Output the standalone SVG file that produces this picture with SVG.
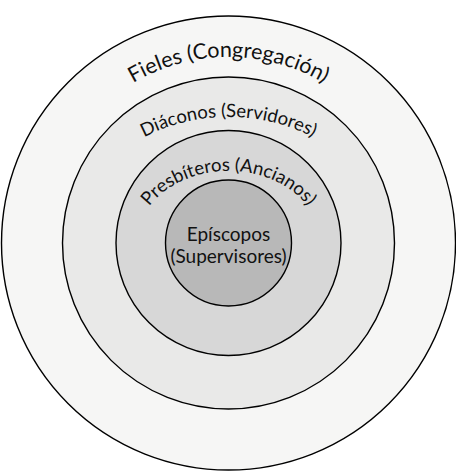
<svg xmlns="http://www.w3.org/2000/svg" xmlns:xlink="http://www.w3.org/1999/xlink" width="456" height="472" viewBox="0 0 456 472">
<style>
.ring{stroke:#000;stroke-width:1.4}
.lbl{font-family:Lato,"Open Sans","Noto Sans",sans-serif;fill:#111}
</style>
<defs>
<path id="arcFieles" d="M 41.5,243 A 187 186 0 0 1 415.5,243"/>
<path id="arcDiaconos" d="M 73.5,243 A 155 126 0 0 1 383.5,243"/>
<path id="arcPresbiteros" d="M 136.5,243 A 92 72 0 0 1 320.5,243"/>
</defs>
<rect width="456" height="472" fill="#fff"/>
<g id="fieles">
<circle class="ring" cx="228.5" cy="243" r="227" fill="#f6f6f5"/>
<text class="lbl" font-size="21.5" text-anchor="middle"><textPath xlink:href="#arcFieles" href="#arcFieles" startOffset="50%">Fieles (Congregación)</textPath></text>
</g>
<g id="diaconos">
<circle class="ring" cx="228.5" cy="243" r="166" fill="#e9e9e8"/>
<text class="lbl" font-size="18.5" text-anchor="middle"><textPath xlink:href="#arcDiaconos" href="#arcDiaconos" startOffset="50%">Diáconos (Servidores)</textPath></text>
</g>
<g id="presbiteros">
<circle class="ring" cx="228.5" cy="243" r="112.5" fill="#d7d7d7"/>
<text class="lbl" font-size="18.5" text-anchor="middle"><textPath xlink:href="#arcPresbiteros" href="#arcPresbiteros" startOffset="50%">Presbíteros (Ancianos)</textPath></text>
</g>
<g id="episcopos">
<circle class="ring" cx="228.5" cy="243" r="63" fill="#b8b8b8"/>
<text class="lbl" font-size="19" text-anchor="middle" x="228.5" y="240.5">Epíscopos</text>
<text class="lbl" font-size="19" text-anchor="middle" x="228.5" y="262.5">(Supervisores)</text>
</g>
</svg>
